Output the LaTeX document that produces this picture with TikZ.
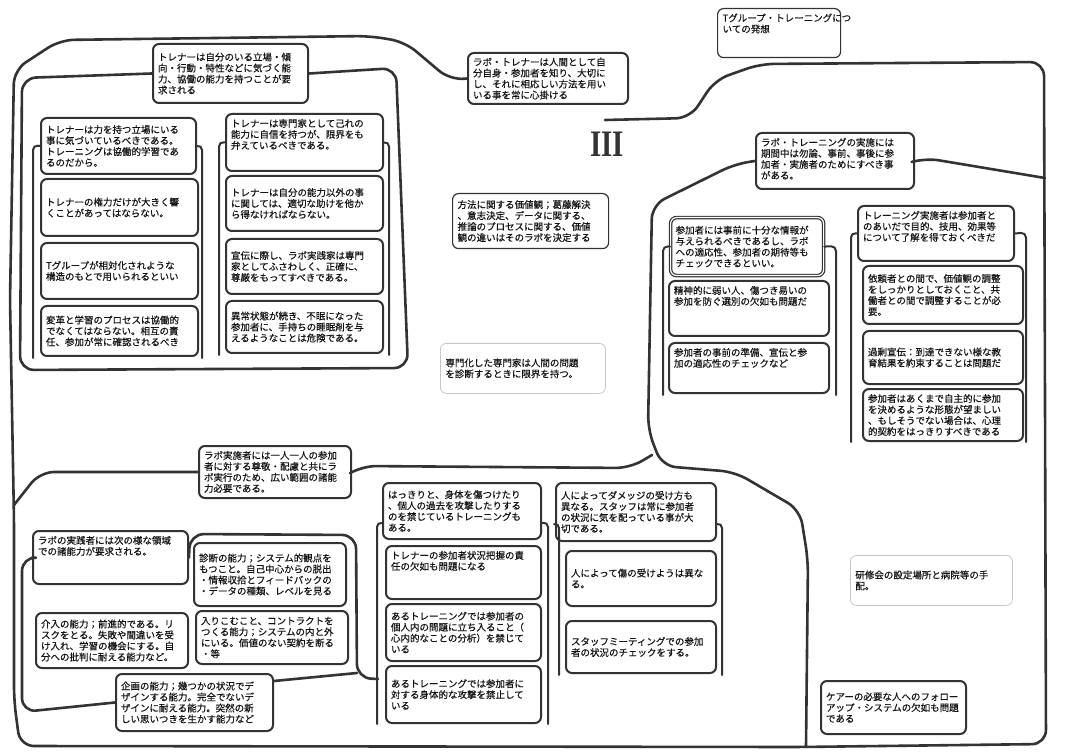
\documentclass[tikz,border=0pt]{standalone}
\usepackage{fontspec}
\usepackage{graphicx}
\setmainfont{Noto Sans CJK JP}[FakeBold=0.4]
\newfontfamily\romanfont{Liberation Serif}
\newcommand\jpf{\fontsize{9.5}{11}\selectfont}
% \BX[valign]{style}{name}{x1}{y1}{x2}{y2}{text}
\newcommand\BX[8][c]{%
 \node[bx,#2,anchor=north west] (#3) at (#4,#5) {\begin{minipage}[t][\dimexpr#7pt-#5pt-10pt\relax][#1]{\dimexpr#6pt-#4pt-10pt\relax}\raggedright\jpf #8\end{minipage}};}
\tikzset{
 bx/.style={draw=black!80, line width=2pt, rounded corners=6pt, inner sep=5pt, text=black!92},
 lightbox/.style={line width=1.2pt},
 faintbox/.style={draw=black!22, line width=0.8pt},
 cv/.style={draw=black!80, line width=2.6pt, line cap=round, line join=round, rounded corners=14pt},
 br/.style={draw=black!80, line width=2pt, line cap=round, line join=round, rounded corners=5pt},
}
\begin{document}
\begin{tikzpicture}[x=1pt,y=-1pt]
\useasboundingbox[fill=white] (0,0) rectangle (1072,754);

% ---------- boxes ----------
\BX[t]{lightbox}{title}{717}{8}{840}{57}{Tグループ・トレーニングにつ\\いての発想}
\BX[c]{}{hTL}{152}{43}{307}{102}{トレナーは自分のいる立場・傾\\向・行動・特性などに気づく能\\力、協働の能力を持つことが要\\求される}
\BX[c]{}{hLT}{467}{52}{627}{103}{ラボ・トレナーは人間として自\\分自身・参加者を知り、大切に\\し、それに相応しい方法を用い\\いる事を常に心掛ける}

\BX[c]{}{L1}{40}{117}{195}{173}{トレナーは力を持つ立場にいる\\事に気づいているべきである。\\トレーニングは協働的学習であ\\るのだから。}
\BX[c]{}{L2}{40}{178}{197}{235}{トレナーの権力だけが大きく響\\くことがあってはならない。}
\BX[c]{}{L3}{40}{242}{197}{298}{Tグループが相対化されような\\構造のもとで用いられるといい}
\BX[c]{}{L4}{40}{305}{197}{355}{変革と学習のプロセスは協働的\\でなくてはならない。相互の責\\任、参加が常に確認されるべき}
\BX[t]{}{R1}{225}{113}{382}{170}{トレナーは専門家として己れの\\能力に自信を持つが、限界をも\\弁えているべきである。}
\BX[c]{}{R2}{225}{175}{382}{230}{トレナーは自分の能力以外の事\\に関しては、適切な助けを他か\\ら得なければならない。}
\BX[c]{}{R3}{225}{238}{382}{293}{宣伝に際し、ラボ実践家は専門\\家としてふさわしく、正確に、\\尊厳をもってすべきである。}
\BX[c]{}{R4}{225}{300}{382}{352}{異常状態が続き、不眠になった\\参加者に、手持ちの睡眠剤を与\\えるようなことは危険である。}

\BX[c]{lightbox}{M1}{452}{193}{608}{248}{方法に関する価値観；葛藤解決\\、意志決定、データに関する、\\推論のプロセスに関する、価値\\観の違いはそのラボを決定する}
\BX[c]{faintbox}{M2}{440}{343}{605}{393}{専門化した専門家は人間の問題\\を診断するときに限界を持つ。}
\node[font=\romanfont\bfseries\fontsize{34}{34}\selectfont, text=black!80, inner sep=0pt] (num) at (607,144) {\scalebox{0.85}[1.1]{III}};

\BX[t]{}{hRT}{755}{132}{913}{188}{ラボ・トレーニングの実施には\\期間中は勿論、事前、事後に参\\加者・実施者のためにすべき事\\がある。}
\BX[c]{double=white, double distance=1.2pt, line width=1.2pt}{RL1}{670}{217}{823}{275}{参加者には事前に十分な情報が\\与えられるべきであるし、ラボ\\への適応性、参加者の期待等も\\チェックできるといい。}
\BX[t]{}{RL2}{668}{280}{828}{335}{精神的に弱い人、傷つき易いの\\参加を防ぐ選別の欠如も問題だ}
\BX[t]{}{RL3}{668}{342}{828}{392}{参加者の事前の準備、宣伝と参\\加の適応性のチェックなど}
\BX[t]{}{RR1}{857}{205}{1013}{260}{トレーニング実施者は参加者と\\のあいだで目的、技用、効果等\\について了解を得ておくべきだ}
\BX[c]{}{RR2}{862}{265}{1022}{323}{依頼者との間で、価値観の調整\\をしっかりとしておくこと、共\\働者との間で調整することが必\\要。}
\BX[c]{}{RR3}{862}{330}{1022}{383}{過剰宣伝：到達できない様な教\\育結果を約束することは問題だ}
\BX[c]{}{RR4}{862}{388}{1022}{440}{参加者はあくまで自主的に参加\\を決めるような形態が望ましい\\、もしそうでない場合は、心理\\的契約をはっきりすべきである}
\BX[c]{faintbox}{KS}{850}{555}{1012}{605}{研修会の設定場所と病院等の手\\配。}
\BX[c]{}{CA}{820}{680}{965}{733}{ケアーの必要な人へのフォロー\\アップ・システムの欠如も問題\\である}

\BX[t]{}{hB}{198}{445}{350}{497}{ラボ実施者には一人一人の参加\\者に対する尊敬・配慮と共にラ\\ボ実行のため、広い範囲の諸能\\力必要である。}
\BX[t]{}{BL0}{32}{530}{187}{583}{ラボの実践者には次の様な領域\\での諸能力が要求される。}
\BX[c]{}{KN}{35}{612}{187}{667}{介入の能力；前進的である。リ\\スクをとる。失敗や間違いを受\\け入れ、学習の機会にする。自\\分への批判に耐える能力など。}
\BX[c]{}{SD}{193}{542}{345}{605}{診断の能力；システム的観点を\\もつこと。自己中心からの脱出\\・情報収拾とフィードバックの\\・データの種類、レベルを見る}
\BX[c]{}{HK}{195}{610}{347}{663}{入りこむこと、コントラクトを\\つくる能力；システムの内と外\\にいる。価値のない契約を断る\\・等}
\BX[c]{}{KK}{115}{673}{272}{730}{企画の能力；幾つかの状況でデ\\ザインする能力。完全でないデ\\ザインに耐える能力。突然の新\\しい思いつきを生かす能力など}

\BX[c]{}{BM1}{382}{482}{540}{538}{はっきりと、身体を傷つけたり\\、個人の過去を攻撃したりする\\のを禁じているトレーニングも\\ある。}
\BX[t]{}{BM2}{385}{545}{540}{598}{トレナーの参加者状況把握の責\\任の欠如も問題になる}
\BX[c]{}{BM3}{385}{603}{540}{660}{あるトレーニングでは参加者の\\個人内の問題に立ち入ること（\\心内的なことの分析）を禁じて\\いる}
\BX[c]{}{BM4}{385}{665}{540}{722}{あるトレーニングでは参加者に\\対する身体的な攻撃を禁止して\\いる}
\BX[c]{}{BN1}{555}{482}{715}{540}{人によってダメッジの受け方も\\異なる。スタッフは常に参加者\\の状況に気を配っている事が大\\切である。}
\BX[c]{}{BN2}{565}{550}{715}{605}{人によって傷の受けようは異な\\る。}
\BX[c]{}{BN3}{565}{620}{715}{672}{スタッフミーティングでの参加\\者の状況のチェックをする。}

% ---------- hand drawn outlines ----------
% outer boundary
\draw[cv] (hLT.west) -- (450,80) -- (405,42) -- (370,36) -- (60,40) -- (14,70) -- (10,300) -- (14,520) -- (14,700) -- (20,746) -- (800,747) -- (1046,744) -- (1044,62) -- (760,64) -- (715,80) -- (690,118) -- (605,120);
\draw[cv] (hB.west) -- (40,472) -- (14,505);
\draw[cv] (hB.east) -- (362,466) -- (630,468) -- (652,455);
\draw[cv] (hRT.west) -- (735,164) -- (652,205) -- (648,430) -- (662,466) -- (735,472) -- (800,510) -- (808,560) -- (806,747);
\draw[cv] (hRT.east) -- (925,158) -- (1045,178);
% top-left group
\draw[cv] (hTL.west) -- (22,78) -- (20,370) -- (408,368) -- (396,68) -- (hTL.east);
% brackets top-left
\draw[br] (L1.west) -- (33,145) -- (33,358);
\draw[br] (L1.east) -- (202,145) -- (202,358);
\draw[br] (R1.west) -- (219,141.5) -- (219,355);
\draw[br] (R1.east) -- (389,141.5) -- (389,355);
% brackets top-right
\draw[br] (RL1.west) -- (663,246) -- (663,395);
\draw[br] (RL1.east) -- (836,246) -- (836,395);
\draw[br] (RR1.west) -- (851,232.5) -- (851,442);
\draw[br] (RR1.east) -- (1026,232.5) -- (1026,442);
% bottom-left group
\draw[cv] (BL0.west) -- (22,557) -- (22,712) -- (KK.west);
\draw[cv] (BL0.east) -- (190,534) -- (356,535) -- (357,678) -- (378,679);
\draw[cv] ([yshift=-8pt]KK.north east) -- (357,673);
% brackets bottom-middle
\draw[br] ([yshift=-12pt]BM1.west) -- (377,522) -- (377,724);
\draw[br] ([yshift=-12pt]BM1.east) -- (548,522) -- (548,724);
\draw[br] ([yshift=-12pt]BN1.west) -- (559,523) -- (559,675);
\draw[br] ([yshift=-12pt]BN1.east) -- (722,523) -- (722,675);
\end{tikzpicture}
\end{document}
